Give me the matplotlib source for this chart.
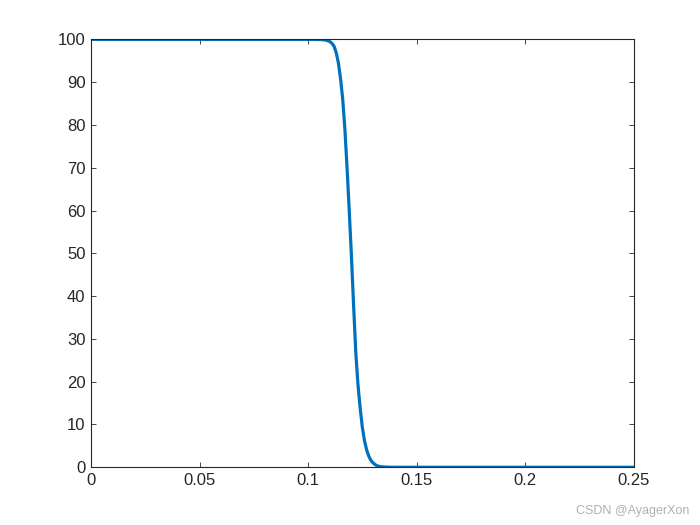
import matplotlib.pyplot as plt
import numpy as np

# values
x = [0, 0.100, 0.104, 0.106, 0.108, 0.109, 0.110, 0.111, 0.112, 0.113,
     0.114, 0.115, 0.116, 0.117, 0.118, 0.119, 0.120, 0.121, 0.122, 0.123,
     0.124, 0.125, 0.126, 0.127, 0.128, 0.129, 0.130, 0.131, 0.132, 0.134,
     0.137, 0.14, 0.25]
y = [100, 100, 99.98, 99.95, 99.85, 99.7, 99.5, 99.1, 98.4, 96.9,
     94.5, 90.8, 86, 79, 70, 60, 49.5, 38, 27, 19.5,
     14, 9.5, 6.3, 4.1, 2.6, 1.6, 1.0, 0.6, 0.3, 0.1,
     0.02, 0, 0]

xticks = [0, 0.05, 0.1, 0.15, 0.2, 0.25]
xticklabels = ['0', '0.05', '0.1', '0.15', '0.2', '0.25']
yticks = np.arange(0, 101, 10)

plt.rcParams['font.family'] = ['Liberation Sans', 'DejaVu Sans']

fig = plt.figure(figsize=(7, 5.25), dpi=100)
ax = fig.add_axes([0.13, 0.11, 0.775, 0.815])
ax.plot(x, y, color='#0072BD', linewidth=2.3, solid_joinstyle='round')

ax.set_xlim(0, 0.25)
ax.set_ylim(0, 100)
ax.set_xticks(xticks)
ax.set_xticklabels(xticklabels)
ax.set_yticks(yticks)
ax.tick_params(direction='in', top=True, right=True, length=3.6, width=0.6,
               labelsize=12, colors='#262626', pad=4)
for s in ax.spines.values():
    s.set_linewidth(0.8)
    s.set_color('#262626')

fig.text(0.985, 0.015, 'CSDN @AyagerXon', ha='right', va='bottom',
         fontsize=9, color='#b0b0b0')

plt.savefig('out.png', dpi=100)
plt.close()
